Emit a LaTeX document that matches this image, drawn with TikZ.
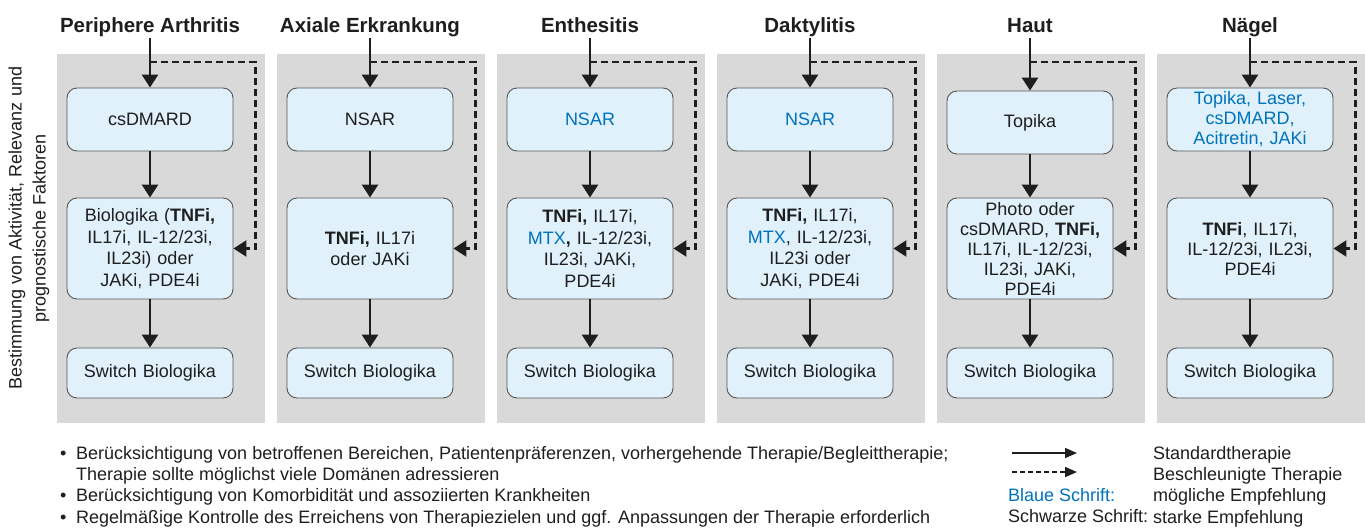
\documentclass[tikz,border=0pt]{standalone}
\usepackage{fontspec}
\setmainfont{Liberation Sans}
\usetikzlibrary{arrows.meta,calc}

\definecolor{panelgray}{RGB}{217,217,217}
\definecolor{boxfill}{RGB}{224,241,252}
\definecolor{boxline}{RGB}{85,85,85}
\definecolor{nblue}{RGB}{0,114,188}
\definecolor{ink}{RGB}{30,30,30}

\newcommand{\bul}{\makebox[16pt][l]{\textbullet}}

\tikzset{
	therapy/.style={draw=boxline, fill=boxfill, rounded corners=10pt, line width=0.9pt,
		text width=158pt, inner xsep=4pt, inner ysep=1pt, align=center,
		font=\fontsize{18}{21.5}\selectfont},
	firstline/.style={therapy, minimum height=63pt},
	secondline/.style={therapy, minimum height=101pt},
	switchbox/.style={therapy, minimum height=50pt},
	heading/.style={font=\fontsize{20.5}{24}\selectfont\bfseries, anchor=base,
		text height=15pt, text depth=4pt, inner sep=2pt},
	std/.style={draw=ink, line width=2.8pt, -{Triangle[width=16pt,length=13pt]}},
	fast/.style={draw=ink, line width=2.5pt, dash pattern=on 7pt off 4pt,
		-{Triangle[width=16pt,length=13pt]}},
	legstd/.style={draw=ink, line width=1.6pt, -{Triangle[width=10pt,length=12pt]}},
	legfast/.style={draw=ink, line width=1.6pt, dash pattern=on 5pt off 3pt,
		-{Triangle[width=10pt,length=12pt]}},
	plain/.style={font=\fontsize{18}{21.3}\selectfont, align=left, inner sep=0pt, anchor=north west}
}

\begin{document}
\begin{tikzpicture}[x=1pt, y=-1pt, text=ink]
	\useasboundingbox (0,0) rectangle (1365,528);

	% grey columns
	\fill[panelgray] (57,54) rectangle (265,423);
	\fill[panelgray] (277,54) rectangle (485,423);
	\fill[panelgray] (497,54) rectangle (705,423);
	\fill[panelgray] (717,54) rectangle (925,423);
	\fill[panelgray] (937,54) rectangle (1145,423);
	\fill[panelgray] (1157,54) rectangle (1365,423);

	\node[rotate=90, align=center, font=\fontsize{18}{24}\selectfont] (crit) at (29,228)
		{Bestimmung von Aktivität, Relevanz und\\prognostische Faktoren};

	% headings
	\node[heading] (hpa) at (150,32) {Periphere Arthritis};
	\node[heading] (hax) at (370,32) {Axiale Erkrankung};
	\node[heading] (hen) at (590,32) {Enthesitis};
	\node[heading] (hda) at (810,32) {Daktylitis};
	\node[heading] (hha) at (1030,32) {Haut};
	\node[heading] (hna) at (1250,32) {Nägel};

	% Periphere Arthritis
	\node[firstline] (pa1) at (150,119.5) {csDMARD};
	\node[secondline] (pa2) at (150,248.5) {Biologika (\textbf{TNFi,}\\IL17i, IL-12/23i,\\IL23i) oder\\JAKi, PDE4i};
	\node[switchbox] (pa3) at (150,373) {Switch Biologika};
	\coordinate (spa) at (150,62);

	% Axiale Erkrankung
	\node[firstline] (ax1) at (370,119.5) {NSAR};
	\node[secondline] (ax2) at (370,248.5) {\textbf{TNFi,} IL17i\\oder JAKi};
	\node[switchbox] (ax3) at (370,373) {Switch Biologika};
	\coordinate (sax) at (370,62);

	% Enthesitis
	\node[firstline] (en1) at (590,119.5) {\color{nblue}NSAR};
	\node[secondline] (en2) at (590,248.5) {\textbf{TNFi,} IL17i,\\{\color{nblue}MTX}\textbf{,} IL-12/23i,\\IL23i, JAKi,\\PDE4i};
	\node[switchbox] (en3) at (590,373) {Switch Biologika};
	\coordinate (sen) at (590,62);

	% Daktylitis
	\node[firstline] (da1) at (810,119.5) {\color{nblue}NSAR};
	\node[secondline] (da2) at (810,248.5) {\textbf{TNFi,} IL17i,\\{\color{nblue}MTX}, IL-12/23i,\\IL23i oder\\JAKi, PDE4i};
	\node[switchbox] (da3) at (810,373) {Switch Biologika};
	\coordinate (sda) at (810,62);

	% Haut
	\node[firstline] (ha1) at (1030,122.5) {Topika};
	\node[secondline, font=\fontsize{18}{20}\selectfont] (ha2) at (1030,248.5) {Photo oder\\csDMARD, \textbf{TNFi,}\\IL17i, IL-12/23i,\\IL23i, JAKi,\\PDE4i};
	\node[switchbox] (ha3) at (1030,373) {Switch Biologika};
	\coordinate (sha) at (1030,62);

	% Naegel
	\node[firstline, font=\fontsize{18}{20}\selectfont, text=nblue] (na1) at (1250,119.5) {Topika, Laser,\\csDMARD,\\Acitretin, JAKi};
	\node[secondline, font=\fontsize{18}{20}\selectfont] (na2) at (1250,248.5) {\textbf{TNFi}, IL17i,\\IL-12/23i, IL23i,\\PDE4i};
	\node[switchbox] (na3) at (1250,373) {Switch Biologika};
	\coordinate (sna) at (1250,62);

	% standard therapy
	\draw[std] (hpa) -- (pa1);
	\draw[std] (pa1) -- (pa2);
	\draw[std] (pa2) -- (pa3);
	\draw[std] (hax) -- (ax1);
	\draw[std] (ax1) -- (ax2);
	\draw[std] (ax2) -- (ax3);
	\draw[std] (hen) -- (en1);
	\draw[std] (en1) -- (en2);
	\draw[std] (en2) -- (en3);
	\draw[std] (hda) -- (da1);
	\draw[std] (da1) -- (da2);
	\draw[std] (da2) -- (da3);
	\draw[std] (hha) -- (ha1);
	\draw[std] (ha1) -- (ha2);
	\draw[std] (ha2) -- (ha3);
	\draw[std] (hna) -- (na1);
	\draw[std] (na1) -- (na2);
	\draw[std] (na2) -- (na3);

	% accelerated therapy
	\draw[fast] (spa) -| ($(pa2.east)+(22,0)$) -- (pa2.east);
	\draw[fast] (sax) -| ($(ax2.east)+(22,0)$) -- (ax2.east);
	\draw[fast] (sen) -| ($(en2.east)+(22,0)$) -- (en2.east);
	\draw[fast] (sda) -| ($(da2.east)+(22,0)$) -- (da2.east);
	\draw[fast] (sha) -| ($(ha2.east)+(22,0)$) -- (ha2.east);
	\draw[fast] (sna) -| ($(na2.east)+(22,0)$) -- (na2.east);

	% notes
	\node[plain] (notes) at (60,446) {\bul Berücksichtigung von betroffenen Bereichen, Patientenpräferenzen, vorhergehende Therapie/Begleittherapie;\\
		\hspace*{16pt}Therapie sollte möglichst viele Domänen adressieren\\
		\bul Berücksichtigung von Komorbidität und assoziierten Krankheiten\\
		\bul Regelmäßige Kontrolle des Erreichens von Therapiezielen und ggf. Anpassungen der Therapie erforderlich};

	% legend
	\coordinate (ls1) at (1012,453);
	\coordinate (ls2) at (1077,453);
	\coordinate (lf1) at (1012,472);
	\coordinate (lf2) at (1077,472);
	\draw[legstd] (ls1) -- (ls2);
	\draw[legfast] (lf1) -- (lf2);
	\node[plain] (keys) at (1008,488) {{\color{nblue}Blaue Schrift:}\\Schwarze Schrift:};
	\node[plain] (meaning) at (1153,446) {Standardtherapie\\Beschleunigte Therapie\\mögliche Empfehlung\\starke Empfehlung};
\end{tikzpicture}
\end{document}
